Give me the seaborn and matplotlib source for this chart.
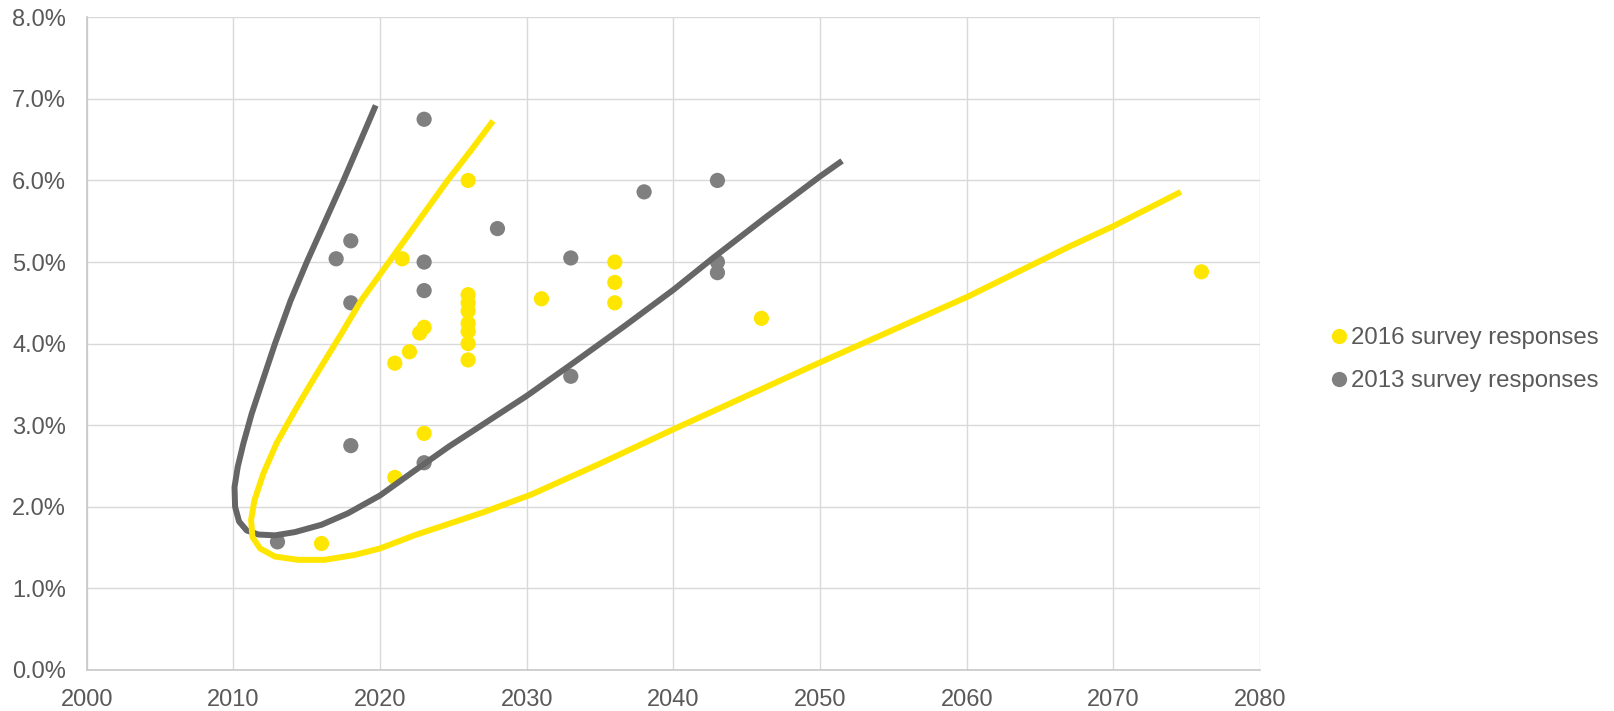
import matplotlib
matplotlib.use("Agg")
import matplotlib.pyplot as plt
from matplotlib.lines import Line2D
from matplotlib.ticker import FuncFormatter
import pandas as pd
import seaborn as sns

# Survey responses: expected year vs. rate (%)
years_2016 = [2016, 2021, 2021, 2021.5, 2022, 2022.7, 2023, 2023,
              2026, 2026, 2026, 2026, 2026, 2026, 2026, 2026,
              2031, 2036, 2036, 2036, 2046, 2076]
rates_2016 = [1.55, 2.36, 3.76, 5.04, 3.90, 4.13, 4.20, 2.90,
              6.00, 4.60, 4.50, 4.40, 4.25, 4.15, 4.00, 3.80,
              4.55, 5.00, 4.75, 4.50, 4.31, 4.88]

years_2013 = [2013, 2017, 2018, 2018, 2018, 2023, 2023, 2023, 2023,
              2028, 2033, 2033, 2038, 2043, 2043, 2043]
rates_2013 = [1.57, 5.04, 5.26, 4.50, 2.75, 6.75, 5.00, 4.65, 2.54,
              5.41, 5.05, 3.60, 5.86, 6.00, 5.00, 4.87]

# Envelope curves around each survey's responses
curve_2013_x = [2019.7, 2018.6, 2017.5, 2016.25, 2015.0, 2013.9, 2012.83, 2011.92,
                2011.24, 2010.68, 2010.29, 2010.07, 2010.11, 2010.38, 2010.9, 2011.7,
                2012.83, 2014.19, 2016.0, 2017.8, 2020.0, 2022.33, 2024.7, 2026.5,
                2030.0, 2033.3, 2036.7, 2040.0, 2042.7, 2046.3, 2050.0, 2051.5]
curve_2013_y = [6.92, 6.46, 6.00, 5.50, 5.00, 4.53, 4.00, 3.51,
                3.14, 2.78, 2.49, 2.24, 2.00, 1.82, 1.71, 1.66,
                1.65, 1.69, 1.78, 1.92, 2.14, 2.44, 2.74, 2.95,
                3.36, 3.78, 4.22, 4.66, 5.05, 5.55, 6.05, 6.24]

curve_2016_x = [2027.7, 2026.2, 2024.6, 2022.6, 2020.6, 2018.71, 2017.35, 2015.54,
                2014.19, 2012.94, 2012.04, 2011.43, 2011.2, 2011.29, 2011.81, 2012.83,
                2014.41, 2016.22, 2018.26, 2020.0, 2022.33, 2024.0, 2027.0, 2030.3,
                2035.0, 2040.0, 2045.0, 2050.0, 2055.0, 2060.0, 2067.0, 2070.0, 2074.6]
curve_2016_y = [6.73, 6.37, 6.00, 5.50, 5.00, 4.53, 4.12, 3.59,
                3.18, 2.78, 2.41, 2.08, 1.84, 1.63, 1.49, 1.39,
                1.35, 1.35, 1.41, 1.49, 1.65, 1.75, 1.93, 2.15,
                2.53, 2.95, 3.36, 3.77, 4.17, 4.57, 5.19, 5.44, 5.86]

label_2016 = "2016 survey responses"
label_2013 = "2013 survey responses"
x_ticks = list(range(2000, 2081, 10))
y_ticks = list(range(0, 9))

YELLOW = "#FFE600"
GREY_PT = "#808080"
GREY_LN = "#666666"
TEXT = "#595959"
GRID = "#d9d9d9"

sns.set_theme(style="whitegrid")
plt.rcParams["font.family"] = ["Liberation Sans", "DejaVu Sans"]

points = pd.concat([
    pd.DataFrame({"year": years_2016, "rate": rates_2016, "series": label_2016}),
    pd.DataFrame({"year": years_2013, "rate": rates_2013, "series": label_2013}),
], ignore_index=True)
curves = pd.concat([
    pd.DataFrame({"year": curve_2013_x, "rate": curve_2013_y, "series": label_2013}),
    pd.DataFrame({"year": curve_2016_x, "rate": curve_2016_y, "series": label_2016}),
], ignore_index=True)

fig = plt.figure(figsize=(16.14, 7.11), dpi=100)
ax = fig.add_axes([0.0538, 0.0577, 0.7269, 0.918])

palette_pts = {label_2016: YELLOW, label_2013: GREY_PT}
palette_ln = {label_2016: YELLOW, label_2013: GREY_LN}

sns.scatterplot(data=points, x="year", y="rate", hue="series",
                hue_order=[label_2016, label_2013], palette=palette_pts,
                s=120, edgecolor="none", linewidth=0, legend=False,
                ax=ax, zorder=3)

for name in [label_2013, label_2016]:
    sub = curves[curves["series"] == name]
    sns.lineplot(data=sub, x="year", y="rate", sort=False, estimator=None,
                 color=palette_ln[name], linewidth=4.3, legend=False,
                 ax=ax, zorder=4, solid_capstyle="butt", solid_joinstyle="round")

ax.set_xlim(x_ticks[0], x_ticks[-1])
ax.set_ylim(y_ticks[0], y_ticks[-1])
ax.set_xticks(x_ticks)
ax.set_yticks(y_ticks)
ax.yaxis.set_major_formatter(FuncFormatter(lambda v, _: f"{v:.1f}%"))
ax.set_xlabel("")
ax.set_ylabel("")

ax.grid(True, color=GRID, linewidth=1.0)
ax.set_axisbelow(True)
for side in ["top", "right"]:
    ax.spines[side].set_visible(False)
for side in ["left", "bottom"]:
    ax.spines[side].set_color("#c8c8c8")
    ax.spines[side].set_linewidth(1.2)

ax.tick_params(axis="both", length=0, labelsize=17, labelcolor=TEXT)
ax.tick_params(axis="y", pad=15)
ax.tick_params(axis="x", pad=14)

handles = [
    Line2D([], [], marker="o", linestyle="none", markersize=11,
           markerfacecolor=YELLOW, markeredgewidth=0),
    Line2D([], [], marker="o", linestyle="none", markersize=11,
           markerfacecolor=GREY_PT, markeredgewidth=0),
]
fig.legend(handles, [label_2016, label_2013], loc="center left",
           bbox_to_anchor=(0.8245, 0.494), frameon=False, fontsize=17.3,
           labelcolor=TEXT, handlelength=0.7, handletextpad=0.15,
           borderpad=0, labelspacing=0.88, borderaxespad=0)

fig.savefig("out.png", dpi=100)
